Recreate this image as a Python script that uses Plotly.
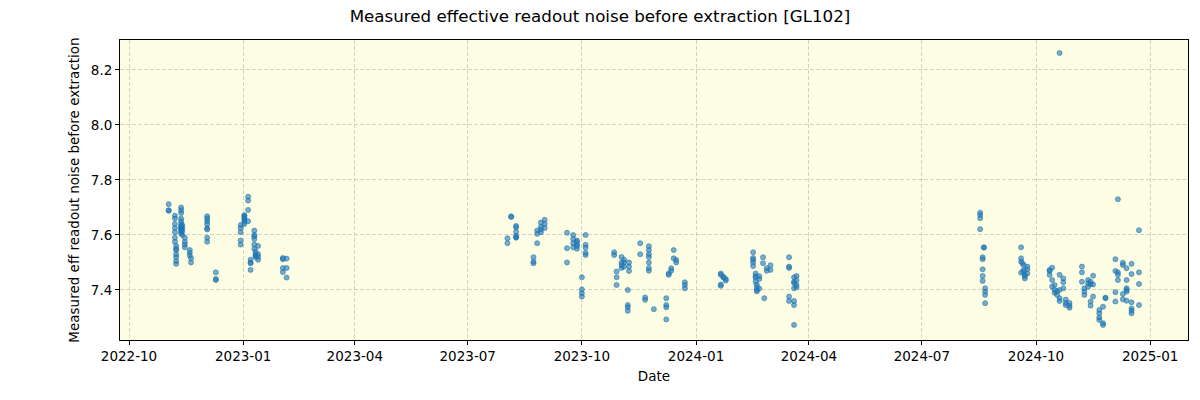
import plotly.graph_objects as go

# --- Observing period 1: Nov 2022 - Feb 2023 ---
dates_p1 = (
    ["2022-11-02"] * 3
    + ["2022-11-07"] * 7
    + ["2022-11-08"] * 7
    + ["2022-11-12"] * 12
    + ["2022-11-13"] * 4
    + ["2022-11-15"] * 4
    + ["2022-11-19"] * 3
    + ["2022-11-20"] * 2
    + ["2022-12-03"] * 8
    + ["2022-12-10"] * 3
    + ["2022-12-30"] * 5
    + ["2023-01-02"] * 7
    + ["2023-01-05"] * 4
    + ["2023-01-07"] * 4
    + ["2023-01-10"] * 6
    + ["2023-01-11"] * 4
    + ["2023-01-13"] * 4
    + ["2023-02-02"] * 4
    + ["2023-02-05"] * 3
)
noise_p1 = [
    7.712, 7.690, 7.688,
    7.670, 7.660, 7.640, 7.625, 7.610, 7.590, 7.575,
    7.560, 7.545, 7.530, 7.520, 7.505, 7.495, 7.550,
    7.700, 7.690, 7.660, 7.650, 7.640, 7.632, 7.628, 7.622, 7.618, 7.612, 7.605, 7.680,
    7.635, 7.625, 7.615, 7.600,
    7.590, 7.575, 7.565, 7.555,
    7.545, 7.535, 7.525,
    7.515, 7.500,
    7.668, 7.660, 7.650, 7.640, 7.625, 7.620, 7.590, 7.575,
    7.464, 7.440, 7.436,
    7.636, 7.625, 7.610, 7.580, 7.565,
    7.672, 7.665, 7.655, 7.648, 7.640, 7.660, 7.670,
    7.739, 7.725, 7.691, 7.650,
    7.500, 7.497, 7.473, 7.510,
    7.616, 7.600, 7.595, 7.585, 7.565, 7.550,
    7.530, 7.525, 7.520, 7.540,
    7.560, 7.530, 7.520, 7.510,
    7.516, 7.512, 7.480, 7.465,
    7.514, 7.480, 7.445,
]

# --- Observing period 2: Aug 2023 - Dec 2023 ---
dates_p2 = (
    ["2023-08-02"] * 2
    + ["2023-08-05"] * 2
    + ["2023-08-09"] * 6
    + ["2023-08-23"] * 3
    + ["2023-08-26"] * 3
    + ["2023-08-29"] * 4
    + ["2023-09-01"] * 3
    + ["2023-09-19"] * 3
    + ["2023-09-24"] * 4
    + ["2023-09-27"] * 5
    + ["2023-10-01"] * 4
    + ["2023-10-04"] * 5
    + ["2023-10-27"] * 2
    + ["2023-10-29"] * 3
    + ["2023-11-02"] * 4
    + ["2023-11-04"] * 3
    + ["2023-11-07"] * 4
    + ["2023-11-08"] * 3
    + ["2023-11-17"] * 2
    + ["2023-11-21"] * 2
    + ["2023-11-24"] * 7
    + ["2023-11-28"] * 1
    + ["2023-12-08"] * 4
    + ["2023-12-10"] * 2
    + ["2023-12-12"] * 2
    + ["2023-12-14"] * 2
    + ["2023-12-16"] * 2
    + ["2023-12-23"] * 3
)
noise_p2 = [
    7.588, 7.570,
    7.668, 7.665,
    7.633, 7.628, 7.612, 7.596, 7.590, 7.592,
    7.519, 7.503, 7.497,
    7.616, 7.604, 7.570,
    7.645, 7.630, 7.620, 7.610,
    7.655, 7.640, 7.625,
    7.608, 7.552, 7.500,
    7.600, 7.585, 7.570, 7.555,
    7.580, 7.565, 7.560, 7.575, 7.550,
    7.446, 7.402, 7.388, 7.376,
    7.600, 7.564, 7.554, 7.535, 7.527,
    7.537, 7.527,
    7.467, 7.446, 7.418,
    7.480, 7.500, 7.520, 7.490,
    7.510, 7.500, 7.485,
    7.400, 7.345, 7.337, 7.324,
    7.500, 7.485, 7.469,
    7.570, 7.530,
    7.373, 7.364,
    7.559, 7.545, 7.520, 7.500, 7.480, 7.470, 7.530,
    7.330,
    7.370, 7.345, 7.337, 7.293,
    7.455, 7.460,
    7.470, 7.479,
    7.545, 7.515,
    7.509, 7.500,
    7.428, 7.418, 7.406,
]

# --- Observing period 3: Jan 2024 - Mar 2024 ---
dates_p3 = (
    ["2024-01-21"] * 4
    + ["2024-01-23"] * 2
    + ["2024-01-25"] * 2
    + ["2024-02-16"] * 5
    + ["2024-02-18"] * 4
    + ["2024-02-19"] * 4
    + ["2024-02-21"] * 3
    + ["2024-02-24"] * 2
    + ["2024-02-25"] * 1
    + ["2024-02-27"] * 2
    + ["2024-03-01"] * 2
    + ["2024-03-16"] * 5
    + ["2024-03-20"] * 7
    + ["2024-03-22"] * 4
)
noise_p3 = [
    7.460, 7.455, 7.415, 7.420,
    7.448, 7.445,
    7.434, 7.440,
    7.537, 7.516, 7.510, 7.500, 7.487,
    7.460, 7.450, 7.445, 7.430,
    7.410, 7.400, 7.395, 7.420,
    7.440, 7.450, 7.405,
    7.519, 7.497,
    7.370,
    7.470, 7.479,
    7.490, 7.473,
    7.519, 7.485, 7.480, 7.376, 7.360,
    7.446, 7.430, 7.425, 7.406, 7.360, 7.345, 7.273,
    7.451, 7.435, 7.418, 7.410,
]

# --- Observing period 4: Aug 2024 - Dec 2024 ---
dates_p4 = (
    ["2024-08-17"] * 4
    + ["2024-08-19"] * 5
    + ["2024-08-20"] * 2
    + ["2024-08-21"] * 4
    + ["2024-09-19"] * 4
    + ["2024-09-20"] * 1
    + ["2024-09-21"] * 3
    + ["2024-09-22"] * 3
    + ["2024-09-24"] * 3
    + ["2024-10-12"] * 3
    + ["2024-10-14"] * 3
    + ["2024-10-16"] * 3
    + ["2024-10-18"] * 2
    + ["2024-10-20"] * 5
    + ["2024-10-23"] * 3
    + ["2024-10-25"] * 3
    + ["2024-10-28"] * 3
    + ["2024-11-07"] * 3
    + ["2024-11-09"] * 3
    + ["2024-11-12"] * 3
    + ["2024-11-14"] * 4
    + ["2024-11-16"] * 3
    + ["2024-11-21"] * 4
    + ["2024-11-24"] * 3
    + ["2024-11-26"] * 2
    + ["2024-12-04"] * 4
    + ["2024-12-06"] * 4
    + ["2024-12-10"] * 4
    + ["2024-12-13"] * 6
    + ["2024-12-17"] * 6
    + ["2024-12-23"] * 4
)
noise_p4 = [
    7.681, 7.673, 7.661, 7.621,
    7.519, 7.512, 7.475, 7.451, 7.433,
    7.554, 7.555,
    7.406, 7.394, 7.382, 7.352,
    7.555, 7.515, 7.503, 7.463,
    7.497,
    7.491, 7.473, 7.467,
    7.455, 7.442, 7.450,
    7.485, 7.475, 7.460,
    7.469, 7.455, 7.473,
    7.481, 7.436, 7.412,
    7.418, 7.400, 7.390,
    7.382, 7.395,
    8.262, 7.455, 7.400, 7.370, 7.360,
    7.442, 7.428, 7.406,
    7.353, 7.345, 7.365,
    7.353, 7.343, 7.335,
    7.485, 7.464, 7.430,
    7.406, 7.382, 7.394,
    7.436, 7.424, 7.412,
    7.430, 7.358, 7.343, 7.421,
    7.452, 7.376, 7.420,
    7.327, 7.315, 7.291, 7.300,
    7.339, 7.279, 7.273,
    7.372, 7.370,
    7.512, 7.469, 7.392, 7.358,
    7.730, 7.464, 7.436, 7.455,
    7.499, 7.491, 7.385, 7.366,
    7.479, 7.436, 7.400, 7.406, 7.394, 7.361,
    7.495, 7.458, 7.355, 7.333, 7.325, 7.315,
    7.617, 7.464, 7.422, 7.345,
]

dates = dates_p1 + dates_p2 + dates_p3 + dates_p4
noise = noise_p1 + noise_p2 + noise_p3 + noise_p4

title_text = "Measured effective readout noise before extraction [GL102]"
x_label = "Date"
y_label = "Measured eff readout noise before extraction"

font_family = "DejaVu Sans"

fig = go.Figure()
fig.add_trace(
    go.Scatter(
        x=dates,
        y=noise,
        mode="markers",
        marker=dict(
            size=5,
            color="rgba(31,119,180,0.6)",
            line=dict(width=1, color="rgba(31,119,180,0.6)"),
        ),
        showlegend=False,
    )
)

axis_common = dict(
    showline=True,
    linecolor="black",
    linewidth=1,
    mirror=True,
    ticks="outside",
    ticklen=4,
    tickcolor="black",
    showgrid=True,
    gridcolor="rgba(176,176,176,0.55)",
    griddash="4px,2px",
    gridwidth=1,
    zeroline=False,
    tickfont=dict(family=font_family, size=13.5, color="black"),
    title_font=dict(family=font_family, size=13.5, color="black"),
)

fig.update_layout(
    width=1200,
    height=400,
    margin=dict(l=120, r=12, t=40, b=60),
    paper_bgcolor="white",
    plot_bgcolor="#FDFDE3",
    font=dict(family=font_family, color="black"),
    title=dict(
        text=title_text,
        x=0.5,
        xref="container",
        xanchor="center",
        y=1 - 16 / 400,
        yref="container",
        yanchor="middle",
        font=dict(family=font_family, size=16.7, color="black"),
    ),
    xaxis=dict(
        axis_common,
        type="date",
        range=["2022-09-23 18:00", "2025-01-31 12:00"],
        tick0="2022-10-01",
        dtick="M3",
        tickformat="%Y-%m",
        title=dict(text=x_label, standoff=8),
    ),
    yaxis=dict(
        axis_common,
        range=[7.218, 8.309],
        tick0=7.4,
        dtick=0.2,
        tickformat=".1f",
        title=dict(text=y_label, standoff=8),
    ),
)

fig.write_html("out.html")
